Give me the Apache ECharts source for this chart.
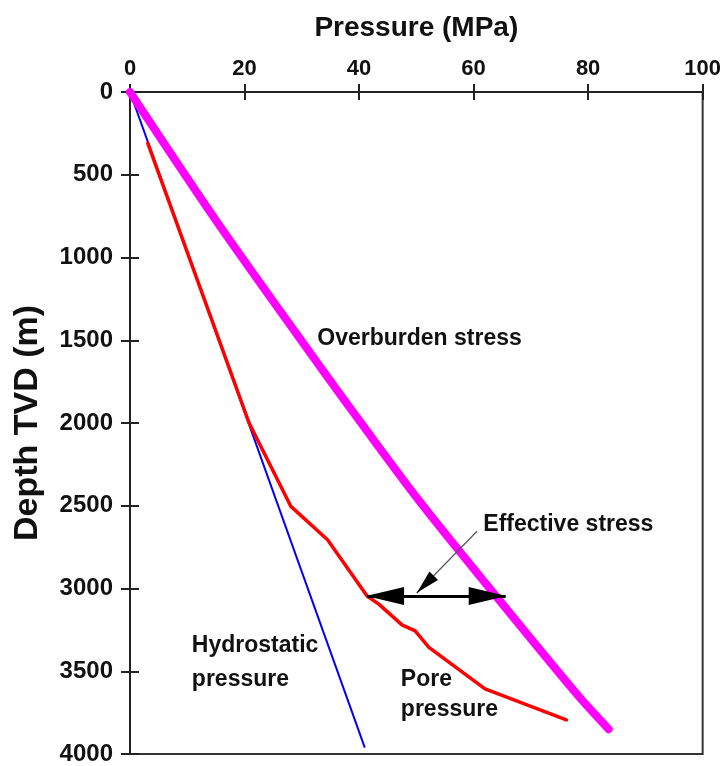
<!DOCTYPE html>
<html>
<head>
<meta charset="utf-8">
<script src="https://cdn.jsdelivr.net/npm/echarts@6/dist/echarts.min.js"></script>
<style>
  html, body { margin: 0; padding: 0; background: #fff; }
  #main { width: 724px; height: 766px; }
</style>
</head>
<body>
<div id="main"></div>
<script>
// pressure (MPa) on x, depth TVD (m) on y
const pressureRange = [0, 100, 20];
const depthRange = [0, 4000, 500];

// [pressure, depth] pairs
const overburden = [[0, 0], [15.3, 790], [33, 1650], [41, 2030], [50.5, 2470], [61.3, 2935], [78, 3637], [83.6, 3850]];
const hydrostatic = [[0, 0], [41, 3962]];
const porePressure = [[3.1, 309], [14, 1350], [20.8, 2000], [28.1, 2504], [34.5, 2705], [41.4, 3045],
  [43.5, 3096], [47.5, 3220], [49.8, 3256], [52.2, 3356], [62, 3607], [76.2, 3794]];

// annotations
const effStressArrow = [[41.4, 3045], [65.6, 3045]];
const effStressPointer = [[60.6, 2654], [52.6, 2938], [50.1, 3026]];
const notes = [
  { text: 'Overburden stress', at: [32.7, 1492], lh: 26 },
  { text: 'Effective stress', at: [61.7, 2617], lh: 26 },
  { text: 'Hydrostatic\npressure', at: [10.8, 3447], lh: 34 },
  { text: 'Pore\npressure', at: [47.3, 3639], lh: 30 }
];

const FONT = 'Liberation Sans, Arial, sans-serif';
const INK = '#111';

const chart = echarts.init(document.getElementById('main'), null, { renderer: 'canvas' });

const xBase = {
  type: 'value', position: 'top', gridIndex: 0,
  min: pressureRange[0], max: pressureRange[1], interval: pressureRange[2],
  splitLine: { show: false },
  axisLine: { show: true, onZero: false, lineStyle: { color: '#222', width: 2 } }
};
const yBase = {
  type: 'value', position: 'left', inverse: true, gridIndex: 0,
  min: depthRange[0], max: depthRange[1], interval: depthRange[2],
  splitLine: { show: false },
  axisLine: { show: true, onZero: false, lineStyle: { color: '#222', width: 2 } }
};

const option = {
  animation: false,
  backgroundColor: '#fff',
  grid: {
    left: 130, right: 19, top: 92, bottom: 9,
    show: true, borderColor: '#333', borderWidth: 2
  },
  xAxis: [
    Object.assign({}, xBase, {
      name: 'Pressure (MPa)', nameLocation: 'middle', nameGap: 50,
      nameTextStyle: { fontFamily: FONT, fontWeight: 'bold', fontSize: 28, color: INK },
      axisTick: { show: true, inside: false, length: 8, lineStyle: { color: '#222', width: 2 } },
      axisLabel: { margin: 12, fontFamily: FONT, fontWeight: 'bold', fontSize: 22, color: INK }
    }),
    Object.assign({}, xBase, {
      axisTick: { show: true, inside: true, length: 8, lineStyle: { color: '#222', width: 2 } },
      axisLabel: { show: false }
    })
  ],
  yAxis: [
    Object.assign({}, yBase, {
      name: 'Depth TVD (m)', nameLocation: 'middle', nameGap: 85,
      nameTextStyle: { fontFamily: FONT, fontWeight: 'bold', fontSize: 34, color: INK },
      axisTick: { show: true, inside: false, length: 9, lineStyle: { color: '#222', width: 2 } },
      axisLabel: { margin: 17, fontFamily: FONT, fontWeight: 'bold', fontSize: 24, color: INK,
        formatter: v => String(v) }
    }),
    Object.assign({}, yBase, {
      axisTick: { show: true, inside: true, length: 9, lineStyle: { color: '#222', width: 2 } },
      axisLabel: { show: false }
    })
  ],
  series: [
    {
      name: 'Hydrostatic pressure', type: 'line', data: hydrostatic,
      symbol: 'none', z: 2,
      lineStyle: { color: '#0000ff', width: 2 }
    },
    {
      name: 'Pore pressure', type: 'line', data: porePressure,
      symbol: 'none', z: 3,
      lineStyle: { color: '#ff0000', width: 3.5, cap: 'round', join: 'round' }
    },
    {
      name: 'Overburden stress', type: 'line', data: overburden,
      symbol: 'none', smooth: 0.3, z: 4,
      lineStyle: { color: '#ff00ff', width: 8, cap: 'round', join: 'round' }
    },
    {
      name: 'notes', type: 'scatter', z: 6, silent: true,
      symbolSize: 0,
      itemStyle: { opacity: 1 },
      data: notes.map(n => ({
        value: n.at,
        label: {
          show: true, formatter: n.text, position: [0, 0],
          align: 'left', verticalAlign: 'middle', lineHeight: n.lh,
          fontFamily: FONT, fontWeight: 'bold', fontSize: 23, color: INK, opacity: 1
        }
      })),
      markLine: {
        silent: true, animation: false,
        label: { show: false },
        emphasis: { disabled: true },
        data: [
          [
            { coord: effStressArrow[0], symbol: 'triangle', symbolSize: [18, 38], symbolOffset: [0, 18],
              lineStyle: { color: '#000', width: 3, type: 'solid', opacity: 1 } },
            { coord: effStressArrow[1], symbol: 'triangle', symbolSize: [18, 38], symbolOffset: [0, 18] }
          ],
          [
            { coord: effStressPointer[0], symbol: 'none',
              lineStyle: { color: '#555', width: 1.2, type: 'solid', opacity: 1 } },
            { coord: effStressPointer[1], symbol: 'none' }
          ],
          [
            { coord: effStressPointer[1], symbol: 'none',
              lineStyle: { color: '#000', width: 1.2, type: 'solid', opacity: 1 } },
            { coord: effStressPointer[2], symbol: 'triangle', symbolSize: [12, 24], symbolOffset: [0, 12] }
          ]
        ]
      }
    }
  ]
};

chart.setOption(option);
</script>
</body>
</html>
